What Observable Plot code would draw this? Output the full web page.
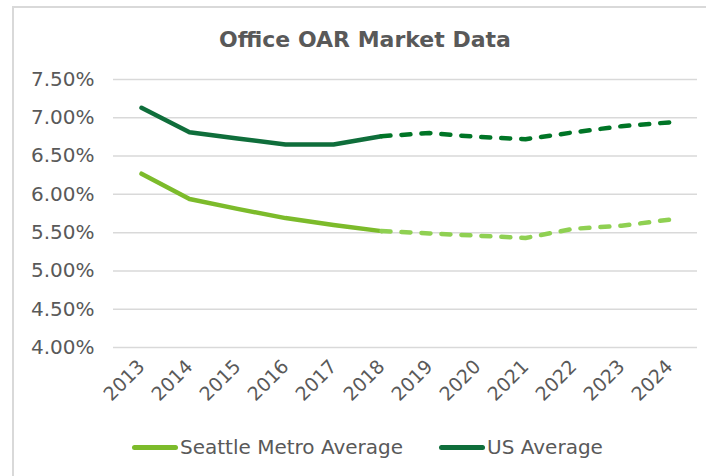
<!DOCTYPE html>
<html>
<head>
<meta charset="utf-8">
<script src="https://cdn.jsdelivr.net/npm/d3@7"></script>
<script src="https://cdn.jsdelivr.net/npm/@observablehq/plot@0.6"></script>
<style>
  html, body { margin: 0; padding: 0; background: #fff; overflow: hidden; }
  #wrap { position: relative; width: 706px; height: 476px; font-family: "DejaVu Sans", Verdana, sans-serif; color: #595959; }
  #frame { position: absolute; left: 12px; top: 6px; width: 720px; height: 500px; border-left: 2px solid #d9d9d9; border-top: 2px solid #d9d9d9; }
  #title { position: absolute; left: 0; width: 730px; top: 26px; text-align: center; font-weight: bold; font-size: 22px; line-height: 28px; }
  #chart { position: absolute; left: 0; top: 0; }
  #legend { position: absolute; top: 434px; left: 132px; display: flex; align-items: center; font-size: 20px; line-height: 26px; }
  .item { display: flex; align-items: center; }
  .sw { width: 46px; height: 5px; border-radius: 3px; margin-right: 2px; }
</style>
</head>
<body>
<div id="wrap">
  <div id="frame"></div>
  <div id="chart"></div>
  <div id="title">Office OAR Market Data</div>
  <div id="legend"></div>
</div>
<script>
const years = ["2013","2014","2015","2016","2017","2018","2019","2020","2021","2022","2023","2024"];
const seattle = [6.27, 5.94, 5.81, 5.69, 5.60, 5.52, 5.49, 5.46, 5.43, 5.55, 5.59, 5.67];
const us = [7.13, 6.81, 6.73, 6.65, 6.65, 6.76, 6.80, 6.75, 6.72, 6.81, 6.89, 6.94];
const yTicks = [4.0, 4.5, 5.0, 5.5, 6.0, 6.5, 7.0, 7.5];
const seriesNames = ["Seattle Metro Average", "US Average"];
const lastActual = "2018";

const colors = {
  seattleSolid: "#7cbb2b", seattleDash: "#8fd052",
  usSolid: "#0f6e3b", usDash: "#007526"
};

const cut = years.indexOf(lastActual);
const rows = (vals) => years.map((yr, i) => ({year: yr, value: vals[i] / 100, i}));
const sRows = rows(seattle), uRows = rows(us);
const actual = (r) => r.filter(d => d.i <= cut);
const forecast = (r) => r.filter(d => d.i >= cut);

const chart = Plot.plot({
  width: 706,
  height: 476,
  marginLeft: 113,
  marginRight: 9,
  marginTop: 79,
  marginBottom: 129,
  style: {fontFamily: "DejaVu Sans, Verdana, sans-serif", fontSize: "20px", color: "#595959", background: "transparent"},
  x: {type: "point", domain: years, padding: 0.5},
  y: {domain: [0.04, 0.075]},
  marks: [
    Plot.ruleY(yTicks.map(v => v / 100), {stroke: "#d9d9d9", strokeWidth: 1.5}),
    Plot.axisY({ticks: yTicks.map(v => v / 100), tickFormat: d3.format(".2%"), tickSize: 0, tickPadding: 19, fontSize: 20, label: null}),
    Plot.axisX({tickRotate: -45, tickSize: 0, tickPadding: 16, fontSize: 19, label: null}),
    Plot.line(actual(sRows), {x: "year", y: "value", stroke: colors.seattleSolid, strokeWidth: 4.5, strokeLinecap: "round", strokeLinejoin: "round"}),
    Plot.line(forecast(sRows), {x: "year", y: "value", stroke: colors.seattleDash, strokeWidth: 4.5, strokeLinecap: "round", strokeLinejoin: "round", strokeDasharray: "9,11"}),
    Plot.line(actual(uRows), {x: "year", y: "value", stroke: colors.usSolid, strokeWidth: 4.5, strokeLinecap: "round", strokeLinejoin: "round"}),
    Plot.line(forecast(uRows), {x: "year", y: "value", stroke: colors.usDash, strokeWidth: 4.5, strokeLinecap: "round", strokeLinejoin: "round", strokeDasharray: "9,11"})
  ]
});
document.getElementById("chart").appendChild(chart);

const legend = document.getElementById("legend");
[[seriesNames[0], colors.seattleSolid], [seriesNames[1], colors.usSolid]].forEach(([name, c], k) => {
  const it = document.createElement("div");
  it.className = "item";
  if (k > 0) it.style.marginLeft = "36px";
  const sw = document.createElement("div");
  sw.className = "sw";
  sw.style.background = c;
  const t = document.createElement("span");
  t.textContent = name;
  it.appendChild(sw); it.appendChild(t);
  legend.appendChild(it);
});
</script>
</body>
</html>
